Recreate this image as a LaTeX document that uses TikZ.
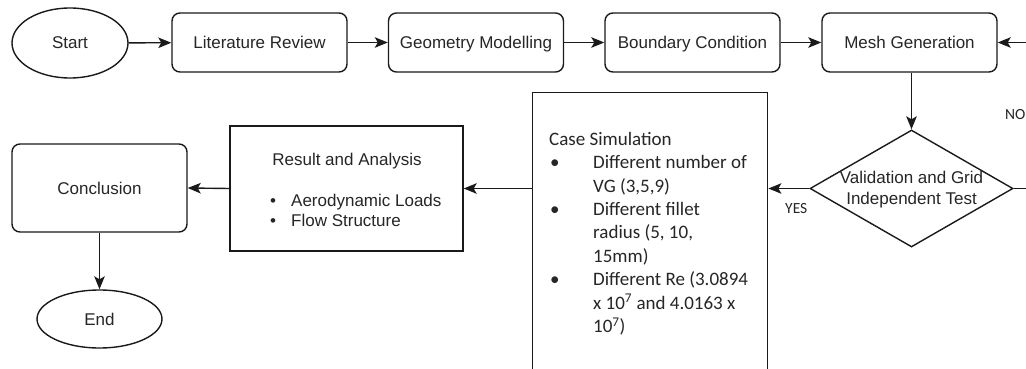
\documentclass[tikz,border=0pt]{standalone}
\usepackage{fontspec}
\setmainfont{Liberation Sans}
\newfontfamily\calfont{Carlito}
\usetikzlibrary{shapes.geometric,arrows.meta}
\definecolor{txt}{HTML}{262626}
\definecolor{ln}{HTML}{1A1A1A}
\tikzset{
  base/.style={draw=ln, line width=1.4pt, text=txt, font=\fontsize{17}{21}\selectfont, inner sep=0pt},
  onel/.style={text height=14.5pt, text depth=2.5pt},
  procbox/.style={base, onel, rectangle, rounded corners=8pt, minimum width=175pt, minimum height=59pt},
  term/.style={base, onel, ellipse},
  plainbox/.style={base, rectangle},
  decision/.style={base, diamond, minimum width=203pt, minimum height=117pt, aspect=1.735},
  conn/.style={draw=ln, line width=1.4pt, -{Stealth[length=13pt,width=10.5pt,inset=3pt]}},
  lbl/.style={text=txt, inner sep=0pt, font=\calfont\fontsize{15.5}{18}\selectfont},
}
\newcommand\cbul{\hspace*{1pt}\makebox[43pt][l]{•}}
\newcommand\cind{\hspace*{44pt}}
\begin{document}
\begin{tikzpicture}[x=1pt,y=-1pt]
\useasboundingbox (0,0) rectangle (1026,369);
\fill[white] (0,0) rectangle (1026,369);
\clip (0,0) rectangle (1026,369);
% top row
\node[term, minimum width=116pt, minimum height=70pt] (start) at (70,43) {Start};
\node[procbox] (lit) at (259.5,42.5) {Literature Review};
\node[procbox] (geo) at (476,42.5) {Geometry Modelling};
\node[procbox] (bc) at (692.5,42.5) {Boundary Condition};
\node[procbox] (mesh) at (909.5,42.5) {Mesh Generation};
% decision
\node[decision] (dia) at (911.5,188.5) {};
\node[text=txt, font=\fontsize{17}{21}\selectfont, align=center, inner sep=0pt] (diat) at (911.5,189.5) {Validation and Grid\\Independent Test};
% case simulation box
\node[plainbox, anchor=north west, minimum width=235pt, minimum height=300pt] (cs) at (532,92) {};
\node[anchor=north west, inner sep=0pt, text=txt, align=left, font=\calfont\fontsize{19}{23.4}\selectfont] (cst) at (549,132)
{Case Simulation\\
\cbul Different number of\\
\cind VG (3,5,9)\\
\cbul Different fillet\\
\cind radius (5, 10,\\
\cind 15mm)\\
\cbul Different Re (3.0894\\
\cind x 10\textsuperscript{7} and 4.0163 x\\
\cind 10\textsuperscript{7})};
% result and analysis
\node[plainbox, minimum width=233pt, minimum height=125pt] (ra) at (346.5,188.5) {};
\node[text=txt, inner sep=0pt, font=\fontsize{17}{21}\selectfont] (rat) at (347,161) {Result and Analysis};
\node[anchor=west, text=txt, inner sep=0pt, align=left, font=\fontsize{17}{20}\selectfont] (ral) at (268,210)
{\makebox[23pt][l]{\hspace*{2pt}\textbullet}Aerodynamic Loads\\
\makebox[23pt][l]{\hspace*{2pt}\textbullet}Flow Structure};
% conclusion and end
\node[procbox, minimum width=175pt, minimum height=88pt] (conc) at (99.5,188) {Conclusion};
\node[term, minimum width=125pt, minimum height=58pt] (end) at (99.5,319) {End};
% connectors
\draw[conn] (start) -- (lit);
\draw[conn] (lit) -- (geo);
\draw[conn] (geo) -- (bc);
\draw[conn] (bc) -- (mesh);
\draw[conn] (mesh.south -| dia.north) -- (dia.north);
\draw[conn] (dia.east) -- ++(40,0) |- (mesh.east);
\draw[conn] (dia.west) -- (dia.west -| cs.east);
\draw[conn] (ra.east -| cs.west) -- (ra.east);
\draw[conn] (ra.west) -- (conc.east);
\draw[conn] (conc.south) -- (end.north);
% labels
\node[lbl, anchor=west] (yes) at (785,209) {YES};
\node[lbl, anchor=west] (no) at (1005,115) {NO};
\end{tikzpicture}
\end{document}
